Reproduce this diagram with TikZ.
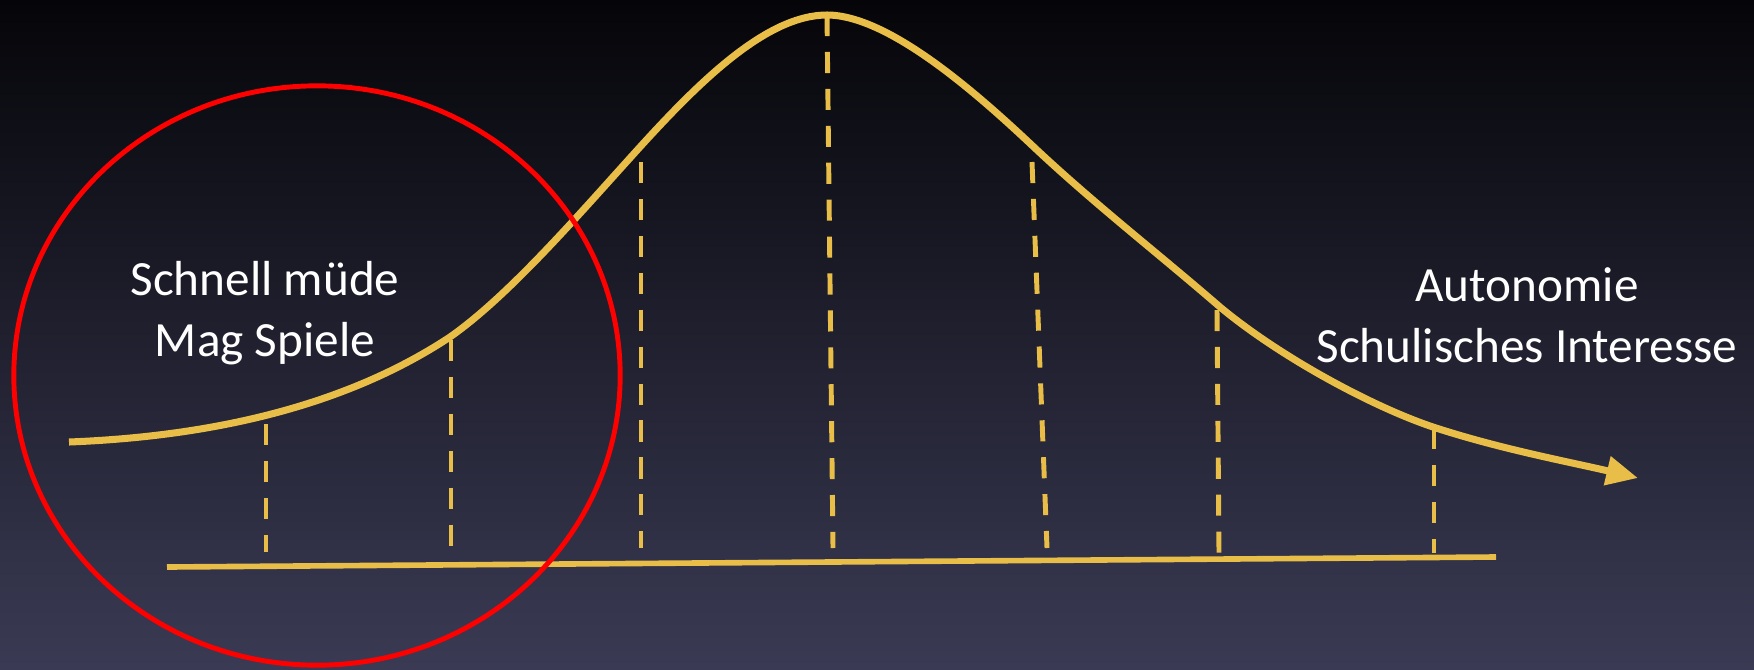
\documentclass[tikz,border=0pt]{standalone}
\usepackage{fontspec}
\setmainfont{Carlito}
\usetikzlibrary{arrows.meta,shapes.geometric}
\definecolor{gold}{RGB}{232,189,72}
\definecolor{night}{RGB}{5,5,9}
\definecolor{dusk}{RGB}{30,28,50}
\definecolor{slate}{RGB}{58,58,84}
\tikzset{
  >={Triangle[length=9pt,width=8pt]},
  curve/.style={draw=gold,line width=2pt,->},
  axis line/.style={draw=gold,line width=1.6pt},
  drop/.style={draw=gold,line width=1.4pt,dash pattern=on 6pt off 4.5pt},
  note/.style={text=white,font=\fontsize{14}{17.2}\selectfont,align=center},
  zone/.style={ellipse,draw=red,line width=1.4pt,inner sep=0pt},
}

\begin{document}
\begin{tikzpicture}[x=0.01cm,y=-0.01cm]
  \shade[top color=night,middle color=dusk,bottom color=slate] (0,0) rectangle (1754,669);
  % bell curve
  \draw[curve] (69,442) .. controls (250,435) and (370,390) .. (450,337)
    .. controls (510,295) and (580,213) .. (640,147)
    .. controls (700,81) and (767,15) .. (827,15)
    .. controls (890,15) and (982,98) .. (1037,150)
    .. controls (1097,206) and (1160,255) .. (1220,307)
    .. controls (1280,357) and (1373,407) .. (1433,427)
    .. controls (1500,449) and (1570,462) .. (1638,478);
  % axis and drops
  \coordinate (b0) at (167,567);
  \coordinate (b1) at (1496,557);
  \draw[axis line] (b0) -- (b1);
  \coordinate (t1) at (266,424);  \coordinate (f1) at (266,552);
  \coordinate (t2) at (451,340);  \coordinate (f2) at (451,548);
  \coordinate (t3) at (641,162);  \coordinate (f3) at (641,548);
  \coordinate (t4) at (827,15);   \coordinate (f4) at (833,548);
  \coordinate (t5) at (1032,162); \coordinate (f5) at (1047,548);
  \coordinate (t6) at (1217,310); \coordinate (f6) at (1219,553);
  \coordinate (t7) at (1434,428); \coordinate (f7) at (1434,553);
  \foreach \i in {1,...,7} \draw[drop] (t\i) -- (f\i);
  \node[zone,minimum width=6.06cm,minimum height=5.79cm] (tired) at (317,375.5) {};
  \node[note] (young) at (265,313) {Schnell müde\\Mag Spiele};
  \node[note] (older) at (1527,315) {Autonomie\\Schulisches Interesse};
\end{tikzpicture}
\end{document}
